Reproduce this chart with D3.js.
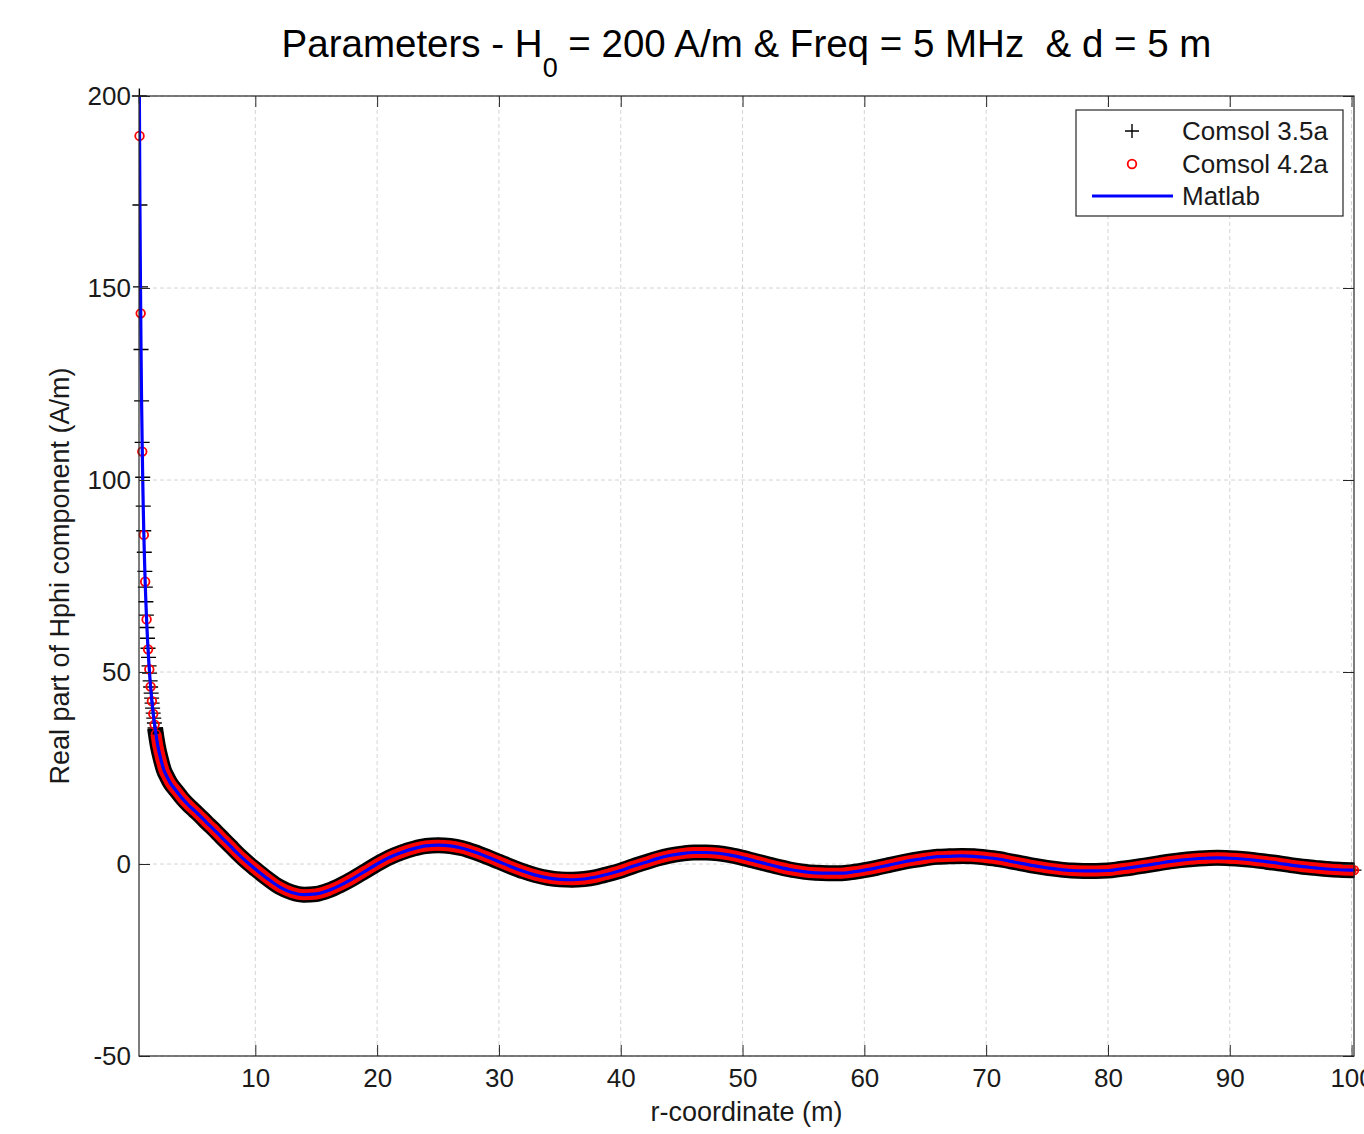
<!DOCTYPE html>
<html>
<head>
<meta charset="utf-8">
<script src="https://cdn.jsdelivr.net/npm/d3@7"></script>
<style>
  html, body { margin: 0; padding: 0; background: #fff; }
  svg { display: block; }
</style>
</head>
<body>
<svg id="chart" width="1364" height="1134"></svg>
<script>
// ---------------- data ----------------
// Comsol 3.5a near-source samples (steep part, individual markers visible)
const rHead35 = [0.48,0.526,0.572,0.616,0.662,0.708,0.753,0.797,0.841,0.885,0.930,0.971,1.014,1.058,1.102,1.145,1.189,1.233,1.277,1.318,1.364,1.405,1.448,1.485,1.525,1.567,1.613,1.661,1.712,1.768,1.828];
const hHead35 = [200,171.6,150.3,134,120.6,109.8,100.7,93.2,86.8,81.2,76.2,72.1,68.3,64.8,61.6,58.8,56.2,53.8,51.6,49.7,47.7,46.1,44.5,43.2,41.9,40.6,39.3,38.0,36.7,35.4,34.1];
// Comsol 4.2a near-source samples
const rHead42 = [0.495,0.589,0.719,0.849,0.957,1.073,1.194,1.296,1.402,1.51,1.62,1.73,1.84];
const hHead42 = [189.6,143.4,107.4,85.7,73.5,63.7,55.9,50.7,46.2,42.4,39.1,36.3,33.8];
// Shared curve (all three solutions coincide) from r = 2 m to the end
const rGrid = [2,2.25,2.5,2.75,3,3.5,4,4.5,5,5.5,6,6.5,7,7.5,8,8.5,9,9.5,10,
  11,12,13,14,15,16,17,18,19,20,21,22,23,24,25,26,27,28,29,30,
  31,32,33,34,35,36,37,38,39,40,41,42,43,44,45,46,47,48,49,50,
  51,52,53,54,55,56,57,58,59,60,61,62,63,64,65,66,67,68,69,70,
  71,72,73,74,75,76,77,78,79,80,81,82,83,84,85,86,87,88,89,90,
  91,92,93,94,95,96,97,98,99,100,100.2];
const hGrid = [30.7,27.2,24.4,22.7,21.2,19.1,17.1,15.4,13.9,12.4,10.8,9.3,7.7,6.1,4.5,2.9,1.4,0.0,-1.3,
  -3.8,-6.0,-7.4,-8.0,-7.8,-6.9,-5.5,-3.8,-1.9,0.0,1.7,3.0,4.0,4.7,4.9,4.7,4.1,3.1,1.9,0.6,
  -0.7,-1.9,-2.9,-3.6,-4.0,-4.1,-3.9,-3.4,-2.6,-1.7,-0.6,0.4,1.4,2.2,2.7,3.0,3.0,2.8,2.3,1.6,
  0.8,0.0,-0.8,-1.5,-2.0,-2.3,-2.4,-2.4,-2.1,-1.6,-1.0,-0.3,0.4,1.0,1.5,1.9,2.0,2.1,2.0,1.7,
  1.3,0.7,0.1,-0.5,-1.0,-1.4,-1.7,-1.8,-1.8,-1.7,-1.3,-0.9,-0.4,0.1,0.6,1.0,1.3,1.5,1.6,1.5,
  1.3,1.0,0.6,0.2,-0.3,-0.7,-1.0,-1.3,-1.5,-1.6,-1.6];

const xTicks = [10,20,30,40,50,60,70,80,90,100];
const yTicks = [-50,0,50,100,150,200];
const seriesNames = ["Comsol 3.5a","Comsol 4.2a","Matlab"];
const titleMain = "Parameters - H";
const titleSub = "0";
const titleRest = " = 200 A/m & Freq = 5 MHz  & d = 5 m";
const xLabel = "r-coordinate (m)";
const yLabel = "Real part of Hphi component (A/m)";

// ---------------- build series ----------------
const zip = (rs, hs) => rs.map((r, i) => ({r, h: hs[i]}));
const grid = zip(rGrid, hGrid);
const s35 = zip(rHead35, hHead35).concat(grid);
const s42 = zip(rHead42, hHead42).concat(grid);
const sMat = zip(rHead35, hHead35).concat(grid);

// ---------------- layout ----------------
const L = 139, R = 1354, T = 96, B = 1056;
const FONT = "'Liberation Sans', Arial, Helvetica, sans-serif";
const svg = d3.select("#chart");
svg.append("rect").attr("width",1364).attr("height",1134).attr("fill","#fff");

const x = d3.scaleLinear().domain([0.45, 100.2]).range([L, R]);
const y = d3.scaleLinear().domain([-50, 200]).range([B, T]);

svg.append("defs").append("clipPath").attr("id","plotClip")
  .append("rect").attr("x",L).attr("y",T).attr("width",R-L).attr("height",B-T);

// grid
const gGrid = svg.append("g").attr("stroke","#d4d4d4").attr("stroke-width",1).attr("stroke-dasharray","4,3");
xTicks.forEach(t => gGrid.append("line").attr("x1",x(t)).attr("x2",x(t)).attr("y1",T).attr("y2",B));
yTicks.forEach(t => gGrid.append("line").attr("x1",L).attr("x2",R).attr("y1",y(t)).attr("y2",y(t)));

const line = d3.line().x(d => x(d.r)).y(d => y(d.h)).curve(d3.curveMonotoneX);

// Comsol 3.5a : dense black '+' markers (solid band where the markers merge)
svg.append("g").attr("clip-path","url(#plotClip)")
  .append("path").datum(s35.filter(d => d.r >= 1.75))
  .attr("d", line).attr("fill","none").attr("stroke","#000")
  .attr("stroke-width",16).attr("stroke-linejoin","round").attr("stroke-linecap","butt");
const plusPath = "M-7.5,0H7.5M0,-7.5V7.5";
svg.append("g").selectAll("path").data(s35).join("path")
  .attr("transform", d => `translate(${x(d.r)},${y(d.h)})`)
  .attr("d", plusPath).attr("stroke","#000").attr("stroke-width",1.4).attr("fill","none");

// Comsol 4.2a : red 'o' markers
svg.append("g").attr("clip-path","url(#plotClip)")
  .append("path").datum(s42.filter(d => d.r >= 1.75))
  .attr("d", line).attr("fill","none").attr("stroke","#ff0000")
  .attr("stroke-width",11).attr("stroke-linejoin","round").attr("stroke-linecap","butt");
svg.append("g").selectAll("circle").data(s42).join("circle")
  .attr("cx", d => x(d.r)).attr("cy", d => y(d.h)).attr("r",4.3)
  .attr("fill","none").attr("stroke","#ff0000").attr("stroke-width",1.8);

// Matlab : blue line
svg.append("g").attr("clip-path","url(#plotClip)").append("path").datum(sMat)
  .attr("d", line).attr("fill","none").attr("stroke","#0000ff").attr("stroke-width",3.2)
  .attr("stroke-linejoin","round");

// ---------------- axes ----------------
const axisColor = "#262626";
const fmt = d => String(d);
function styleAxis(g) {
  g.select(".domain").remove();
  g.selectAll(".tick line").attr("stroke", axisColor).attr("stroke-width",1);
  g.selectAll(".tick text").attr("fill","#1a1a1a").style("font-family",FONT).style("font-size","26px");
}
svg.append("g").attr("transform",`translate(0,${B})`)
  .call(d3.axisBottom(x).tickValues(xTicks).tickSizeInner(-11).tickSizeOuter(0).tickPadding(13).tickFormat(fmt))
  .call(styleAxis);
svg.append("g").attr("transform",`translate(0,${T})`)
  .call(d3.axisTop(x).tickValues(xTicks).tickSizeInner(-11).tickSizeOuter(0).tickFormat(""))
  .call(styleAxis);
svg.append("g").attr("transform",`translate(${L},0)`)
  .call(d3.axisLeft(y).tickValues(yTicks).tickSizeInner(-11).tickSizeOuter(0).tickPadding(8).tickFormat(fmt))
  .call(styleAxis);
svg.append("g").attr("transform",`translate(${R},0)`)
  .call(d3.axisRight(y).tickValues(yTicks).tickSizeInner(-11).tickSizeOuter(0).tickFormat(""))
  .call(styleAxis);

// frame
svg.append("rect").attr("x",L).attr("y",T).attr("width",R-L).attr("height",B-T)
  .attr("fill","none").attr("stroke",axisColor).attr("stroke-width",1.2);

// labels
svg.append("text").attr("x",(L+R)/2).attr("y",1121).attr("text-anchor","middle")
  .style("font-family",FONT).style("font-size","27px").attr("fill","#1a1a1a").text(xLabel);
svg.append("text").attr("transform",`translate(69,${(T+B)/2}) rotate(-90)`).attr("text-anchor","middle")
  .style("font-family",FONT).style("font-size","27px").attr("fill","#1a1a1a").text(yLabel);

// title
const title = svg.append("text").attr("x",(L+R)/2).attr("y",57).attr("text-anchor","middle")
  .style("font-family",FONT).style("font-size","38.5px").style("white-space","pre").attr("fill","#000");
title.append("tspan").text(titleMain);
title.append("tspan").attr("dy",20).style("font-size","27px").text(titleSub);
title.append("tspan").attr("dy",-20).text(titleRest);

// ---------------- legend ----------------
const lg = svg.append("g");
lg.append("rect").attr("x",1076).attr("y",110).attr("width",267).attr("height",106)
  .attr("fill","#fff").attr("stroke",axisColor).attr("stroke-width",1.2);
const rowY = [131, 164, 196];
lg.append("path").attr("transform",`translate(1132,${rowY[0]})`).attr("d","M-7,0H7M0,-7V7")
  .attr("stroke","#000").attr("stroke-width",1.4);
lg.append("circle").attr("cx",1132).attr("cy",rowY[1]).attr("r",4.3)
  .attr("fill","none").attr("stroke","#ff0000").attr("stroke-width",1.8);
lg.append("line").attr("x1",1092).attr("x2",1173).attr("y1",rowY[2]).attr("y2",rowY[2])
  .attr("stroke","#0000ff").attr("stroke-width",3.2);
seriesNames.forEach((n,i) => {
  lg.append("text").attr("x",1182).attr("y",rowY[i]).attr("dy","0.36em")
    .style("font-family",FONT).style("font-size","26px").attr("fill","#1a1a1a").text(n);
});
</script>
</body>
</html>
